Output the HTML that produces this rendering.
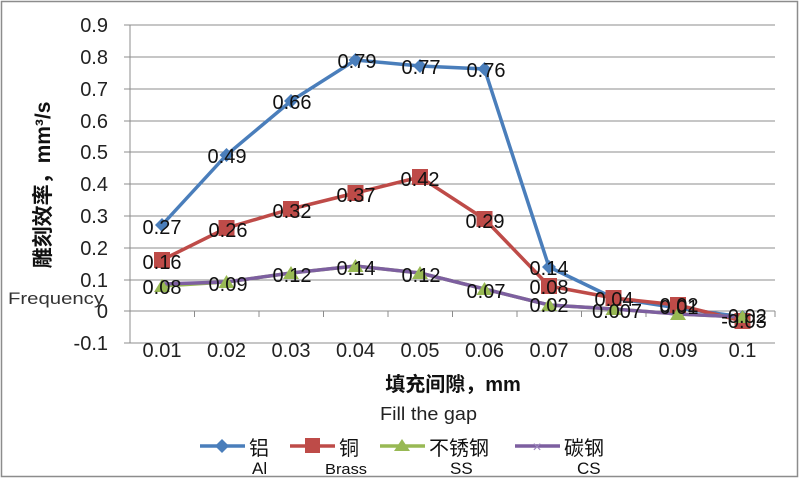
<!DOCTYPE html>
<html><head><meta charset="utf-8"><style>
body{margin:0;background:#fff}
svg{display:block}
text{font-family:"Liberation Sans","Noto Sans CJK SC",sans-serif}
</style></head><body>
<svg width="800" height="479" viewBox="0 0 800 479">
<rect x="1.5" y="1.5" width="796" height="475" fill="#fff" stroke="#8c8c8c" stroke-width="1.5"/>
<g stroke="#8c8c8c" stroke-width="1">
<line x1="124" y1="25" x2="775" y2="25"/>
<line x1="124" y1="57" x2="775" y2="57"/>
<line x1="124" y1="89" x2="775" y2="89"/>
<line x1="124" y1="121" x2="775" y2="121"/>
<line x1="124" y1="152" x2="775" y2="152"/>
<line x1="124" y1="184" x2="775" y2="184"/>
<line x1="124" y1="216" x2="775" y2="216"/>
<line x1="124" y1="248" x2="775" y2="248"/>
<line x1="124" y1="280" x2="775" y2="280"/>
<line x1="124" y1="311" x2="775" y2="311"/>
<line x1="124" y1="343" x2="775" y2="343"/>
<line x1="130" y1="25" x2="130" y2="343"/>
<line x1="194.5" y1="311" x2="194.5" y2="317"/><line x1="259" y1="311" x2="259" y2="317"/>
<line x1="323.5" y1="311" x2="323.5" y2="317"/><line x1="388" y1="311" x2="388" y2="317"/>
<line x1="452.5" y1="311" x2="452.5" y2="317"/><line x1="517" y1="311" x2="517" y2="317"/>
<line x1="581.5" y1="311" x2="581.5" y2="317"/><line x1="646" y1="311" x2="646" y2="317"/>
<line x1="710.5" y1="311" x2="710.5" y2="317"/><line x1="775" y1="311" x2="775" y2="317"/>
</g>
<g font-size="20" fill="#222" text-anchor="end">
<text x="108" y="32">0.9</text><text x="108" y="64">0.8</text><text x="108" y="96">0.7</text>
<text x="108" y="128">0.6</text><text x="108" y="159">0.5</text><text x="108" y="191">0.4</text>
<text x="108" y="223">0.3</text><text x="108" y="255">0.2</text><text x="108" y="287">0.1</text>
<text x="108" y="318">0</text><text x="108" y="350">-0.1</text>
</g>
<g font-size="20" fill="#222" text-anchor="middle">
<text x="162" y="357">0.01</text><text x="226.5" y="357">0.02</text><text x="291" y="357">0.03</text>
<text x="355.5" y="357">0.04</text><text x="420" y="357">0.05</text><text x="484.5" y="357">0.06</text>
<text x="549" y="357">0.07</text><text x="613.5" y="357">0.08</text><text x="678" y="357">0.09</text>
<text x="742.5" y="357">0.1</text>
</g>
<text transform="translate(50,185) rotate(-90)" font-size="21" font-weight="bold" text-anchor="middle" fill="#111">雕刻效率，mm³/s</text>
<text x="8" y="304" font-size="17" fill="#333" textLength="96" lengthAdjust="spacingAndGlyphs">Frequency</text>
<text x="453" y="391" font-size="20" font-weight="bold" text-anchor="middle" fill="#111">填充间隙，mm</text>
<text x="380" y="420" font-size="18" fill="#222" textLength="97" lengthAdjust="spacingAndGlyphs">Fill the gap</text>
<!-- series -->
<polyline fill="none" stroke="#4a7ebb" stroke-width="3.5" points="162,225 226.5,155 291,101 355.5,60 420,66 484.5,69 549,267 613.5,298 678,308 742.5,317"/>
<polyline fill="none" stroke="#be4b48" stroke-width="3.5" points="162,260 226.5,228 291,209 355.5,193 420,177 484.5,219 549,286 613.5,298 678,305 742.5,321"/>
<polyline fill="none" stroke="#98b954" stroke-width="3.5" points="162,286 226.5,282 291,273 355.5,266 420,273 484.5,289 549,305 613.5,309 678,314 742.5,317"/>
<polyline fill="none" stroke="#7d5fa0" stroke-width="3.5" points="162,284 226.5,282 291,273 355.5,266 420,273 484.5,289 549,305 613.5,309 678,314 742.5,317"/>
<g fill="#4a7ebb">
<path d="M162,218l7,7-7,7-7-7z"/><path d="M226.5,148l7,7-7,7-7-7z"/><path d="M291,94l7,7-7,7-7-7z"/><path d="M355.5,53l7,7-7,7-7-7z"/><path d="M420,59l7,7-7,7-7-7z"/><path d="M484.5,62l7,7-7,7-7-7z"/><path d="M549,260l7,7-7,7-7-7z"/><path d="M613.5,291l7,7-7,7-7-7z"/><path d="M678,301l7,7-7,7-7-7z"/><path d="M742.5,310l7,7-7,7-7-7z"/>
</g>
<g fill="#be4b48">
<rect x="154" y="252" width="16" height="16"/><rect x="218.5" y="220" width="16" height="16"/><rect x="283" y="201" width="16" height="16"/><rect x="347.5" y="185" width="16" height="16"/><rect x="412" y="169" width="16" height="16"/><rect x="476.5" y="211" width="16" height="16"/><rect x="541" y="278" width="16" height="16"/><rect x="605.5" y="290" width="16" height="16"/><rect x="670" y="297" width="16" height="16"/><rect x="734.5" y="313" width="16" height="16"/>
</g>
<g fill="#98b954">
<path d="M162,279l8,13h-16z"/><path d="M226.5,275l8,13h-16z"/><path d="M291,266l8,13h-16z"/><path d="M355.5,259l8,13h-16z"/><path d="M420,266l8,13h-16z"/><path d="M484.5,282l8,13h-16z"/><path d="M549,298l8,13h-16z"/><path d="M613.5,302l8,13h-16z"/><path d="M678,307l8,13h-16z"/><path d="M742.5,310l8,13h-16z"/>
</g>
<g font-size="20" fill="#111" text-anchor="middle">
<text x="162" y="234">0.27</text><text x="227" y="163">0.49</text><text x="292" y="109">0.66</text><text x="357" y="68">0.79</text><text x="421" y="74">0.77</text><text x="486" y="77">0.76</text><text x="549" y="275">0.14</text><text x="614" y="306">0.04</text><text x="679" y="314">0.01</text><text x="744" y="323">-0.02</text>
<text x="162" y="269">0.16</text><text x="228" y="237">0.26</text><text x="292" y="218">0.32</text><text x="356" y="202">0.37</text><text x="420" y="186">0.42</text><text x="485" y="228">0.29</text><text x="549" y="294">0.08</text><text x="679" y="312">0.02</text><text x="744" y="328">-0.03</text>
<text x="162" y="294">0.08</text><text x="228" y="291">0.09</text><text x="292" y="282">0.12</text><text x="356" y="275">0.14</text><text x="421" y="282">0.12</text><text x="486" y="298">0.07</text><text x="549" y="312">0.02</text><text x="617" y="318">0.007</text>
</g>
<!-- legend -->
<line x1="200" y1="446" x2="245" y2="446" stroke="#4a7ebb" stroke-width="3.5"/><path d="M222,439l7,7-7,7-7-7z" fill="#4a7ebb"/>
<text x="249" y="455" font-size="20" fill="#111">铝</text><text x="252" y="474" font-size="17" fill="#111">Al</text>
<line x1="290" y1="446" x2="335" y2="446" stroke="#be4b48" stroke-width="3.5"/><rect x="305" y="438" width="15" height="15" fill="#be4b48"/>
<text x="339" y="455" font-size="20" fill="#111">铜</text><text x="325" y="474" font-size="15" fill="#111" textLength="42" lengthAdjust="spacingAndGlyphs">Brass</text>
<line x1="380" y1="446" x2="425" y2="446" stroke="#98b954" stroke-width="3.5"/><path d="M402,439l8,12h-16z" fill="#98b954"/>
<text x="429" y="455" font-size="20" fill="#111">不锈钢</text><text x="450" y="474" font-size="17" fill="#111">SS</text>
<line x1="515" y1="446" x2="560" y2="446" stroke="#7d5fa0" stroke-width="3.5"/><text x="537" y="452" font-size="16" text-anchor="middle" fill="#9b85bd">×</text>
<text x="564" y="455" font-size="20" fill="#111">碳钢</text><text x="577" y="474" font-size="17" fill="#111">CS</text>
</svg>
</body></html>
